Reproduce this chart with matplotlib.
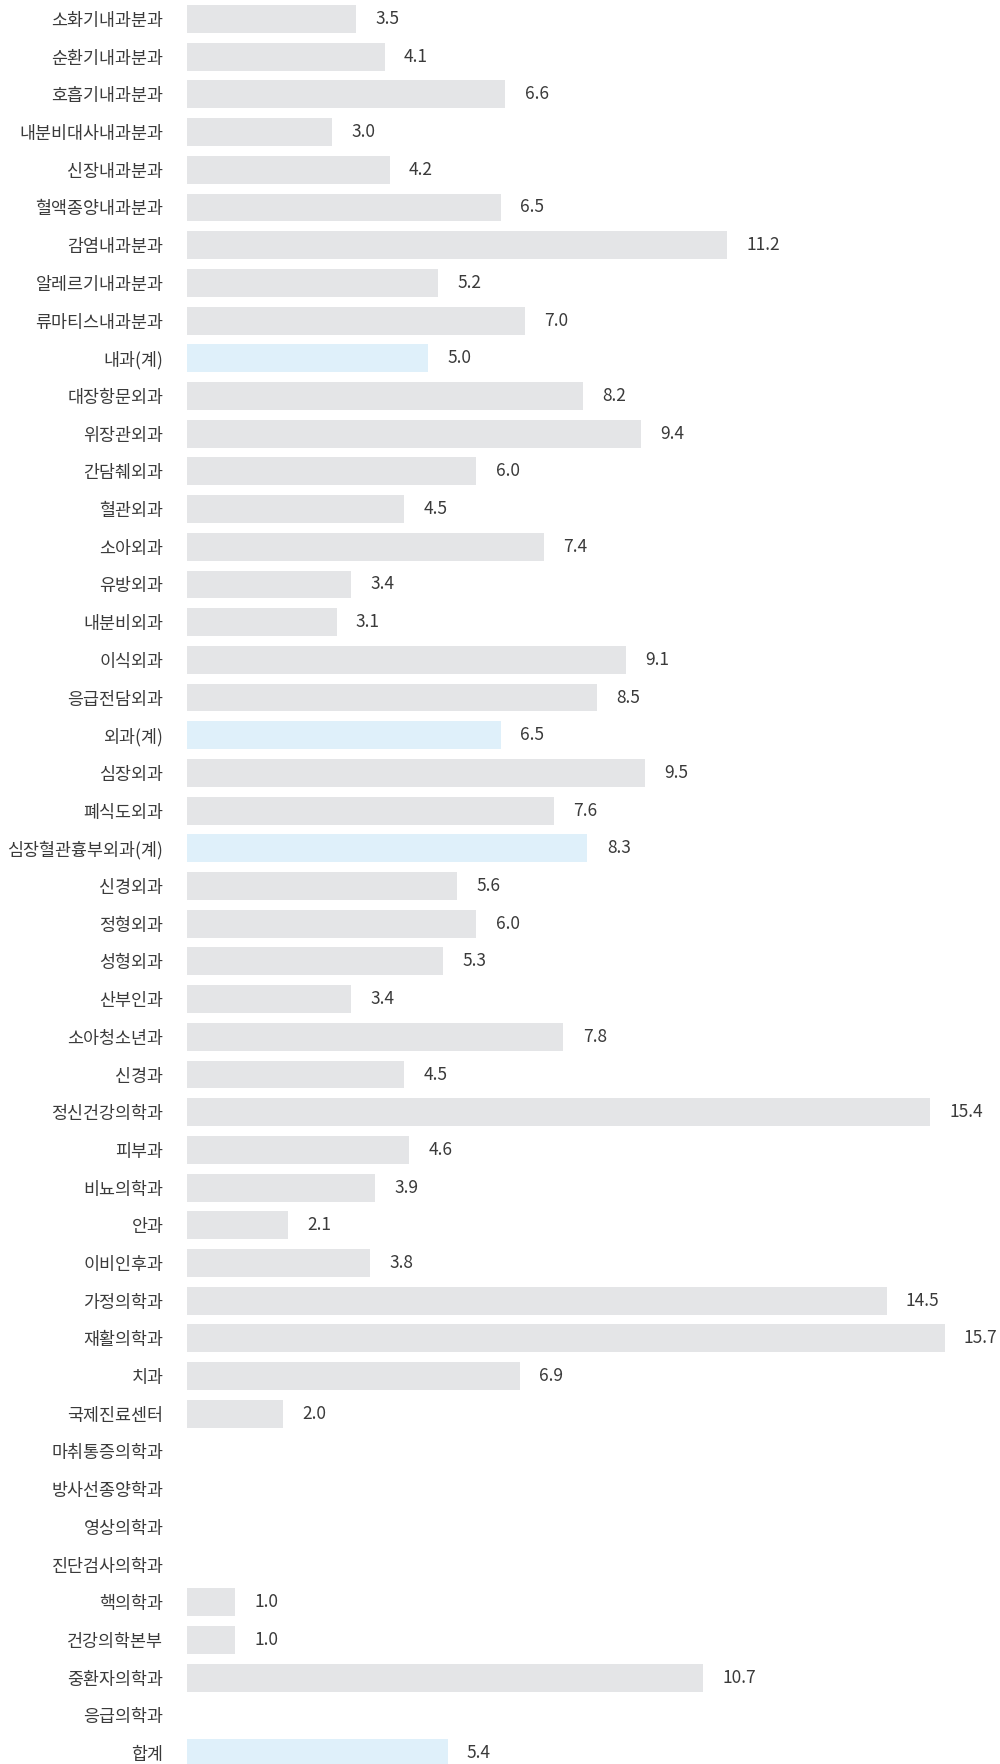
import numpy as np
import matplotlib
matplotlib.use("Agg")
import matplotlib.pyplot as plt

plt.rcParams['font.family'] = ['Noto Sans CJK KR', 'DejaVu Sans']

departments = [
    "소화기내과분과", "순환기내과분과", "호흡기내과분과", "내분비대사내과분과",
    "신장내과분과", "혈액종양내과분과", "감염내과분과", "알레르기내과분과",
    "류마티스내과분과", "내과(계)", "대장항문외과", "위장관외과", "간담췌외과",
    "혈관외과", "소아외과", "유방외과", "내분비외과", "이식외과", "응급전담외과",
    "외과(계)", "심장외과", "폐식도외과", "심장혈관흉부외과(계)", "신경외과",
    "정형외과", "성형외과", "산부인과", "소아청소년과", "신경과", "정신건강의학과",
    "피부과", "비뇨의학과", "안과", "이비인후과", "가정의학과", "재활의학과",
    "치과", "국제진료센터", "마취통증의학과", "방사선종양학과", "영상의학과",
    "진단검사의학과", "핵의학과", "건강의학본부", "중환자의학과", "응급의학과", "합계",
]
values = [
    3.5, 4.1, 6.6, 3.0, 4.2, 6.5, 11.2, 5.2, 7.0, 5.0,
    8.2, 9.4, 6.0, 4.5, 7.4, 3.4, 3.1, 9.1, 8.5, 6.5,
    9.5, 7.6, 8.3, 5.6, 6.0, 5.3, 3.4, 7.8, 4.5, 15.4,
    4.6, 3.9, 2.1, 3.8, 14.5, 15.7, 6.9, 2.0, None, None,
    None, None, 1.0, 1.0, 10.7, None, 5.4,
]
subtotals = ["내과(계)", "외과(계)", "심장혈관흉부외과(계)", "합계"]

gray = "#e4e5e7"
blue = "#dff0fa"

fig = plt.figure(figsize=(10, 17.64), dpi=100)
ax = fig.add_axes([0.187, 0.0, 0.813, 1.0])

y = np.arange(len(departments))
for i, (name, v) in enumerate(zip(departments, values)):
    if v is None:
        continue
    color = blue if name in subtotals else gray
    ax.barh(i, v, height=0.74, color=color, edgecolor="none")
    ax.text(v + 0.4, i, f"{v:.1f}", va="center", ha="left",
            fontsize=12.5, color="#3a3a3a")

ax.set_yticks(y)
ax.set_yticklabels(departments, fontsize=12.5, color="#3a3a3a")
ax.tick_params(axis="y", length=0, pad=17)
ax.set_xticks([])
ax.set_xlim(0, 16.85)
ax.set_ylim(46.29, -0.504)
for s in ax.spines.values():
    s.set_visible(False)

fig.savefig("out.png", dpi=100)
